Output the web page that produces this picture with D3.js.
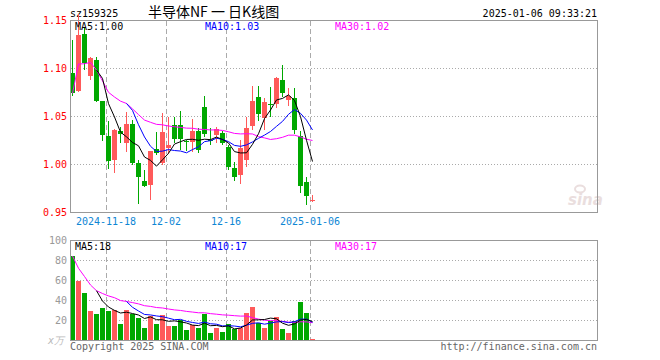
<!DOCTYPE html>
<html>
<head>
<meta charset="utf-8">
<script src="https://cdn.jsdelivr.net/npm/d3@7"></script>
<style>
  body { margin: 0; background: #fff; }
  #chart { width: 660px; height: 360px; }
  text { font-family: "DejaVu Sans Mono", monospace; font-size: 10px; }
</style>
</head>
<body>
<div id="chart"></div>
<script>
// trading days shown on the chart
const dates = [
  '2024-11-08',
  '2024-11-11','2024-11-12','2024-11-13','2024-11-14','2024-11-15',
  '2024-11-18','2024-11-19','2024-11-20','2024-11-21','2024-11-22',
  '2024-11-25','2024-11-26','2024-11-27','2024-11-28','2024-11-29',
  '2024-12-02','2024-12-03','2024-12-04','2024-12-05','2024-12-06',
  '2024-12-09','2024-12-10','2024-12-11','2024-12-12','2024-12-13',
  '2024-12-16','2024-12-17','2024-12-18','2024-12-19','2024-12-20',
  '2024-12-23','2024-12-24','2024-12-25','2024-12-26','2024-12-27',
  '2024-12-30','2024-12-31','2025-01-02','2025-01-03','2025-01-06'
];

const openP  = [1.0945,1.0763,1.135,1.092,1.1087,1.066,1.0288,1.0045,1.0347,1.022,
                1.0413,1.0007,0.982,0.978,1.0156,1.0013,1.017,1.0406,1.041,1.024,
                1.023,1.034,1.059,1.0248,1.0305,1.032,1.018,0.996,0.9887,1.0045,
                1.04,1.07,1.048,1.063,1.062,1.088,1.0665,1.0688,1.0288,0.9815,0.9617];
const highP  = [1.129,1.156,1.142,1.111,1.1115,1.066,1.0451,1.036,1.039,1.0545,
                1.0458,1.004,0.9937,1.014,1.033,1.0534,1.049,1.0493,1.0555,1.025,
                1.0465,1.037,1.071,1.038,1.039,1.034,1.02,1.002,1.025,1.0486,
                1.081,1.081,1.069,1.08,1.091,1.1035,1.079,1.0795,1.034,0.986,0.968];
const lowP   = [1.071,1.075,1.098,1.087,1.0645,1.0243,0.9945,0.991,1.022,1.0128,
                0.999,0.958,0.9763,0.963,1.0097,0.999,1.01,1.022,1.015,1.014,
                1.013,1.011,1.028,1.02,1.022,1.0197,0.994,0.982,0.9796,0.997,
                1.035,1.045,1.035,1.049,1.058,1.07,1.06,1.031,0.9697,0.957,0.96];
const closeP = [1.0736,1.1347,1.105,1.11,1.066,1.0299,1.0034,1.0357,1.031,1.0413,
                1.0007,0.9861,0.9774,1.0132,1.0115,1.0336,1.02,1.0256,1.0256,1.023,
                1.0344,1.015,1.031,1.0235,1.0365,1.0216,0.997,0.986,1.0164,1.0375,
                1.0656,1.052,1.065,1.061,1.09,1.0735,1.0705,1.0357,0.977,0.967,0.9627];
// volume, x万
const volume = [84,59.5,47,29.5,26.5,32.5,29.5,30,16.5,30.5,
                26,22,12.5,24.5,16.5,25.5,14.5,14.5,20,10.5,
                15,12,26.5,7.5,12,8.5,16.5,11,12,27,
                33.5,17.5,12.5,19,23.5,11.5,7,19.5,38,27,1];

const priceTicks = [1.15, 1.10, 1.05, 1.00, 0.95];
const volTicks = [100, 80, 60, 40, 20];
const dateTicks = ['2024-11-18', '12-02', '12-16', '2025-01-06'];

const RED = '#ff5a5a', GREEN = '#00a800';

// moving average; n=30 uses whatever days are available
function movingAvg(arr, n, expanding) {
  return arr.map((d, i) => {
    if (i < n - 1 && !expanding) return null;
    const s = arr.slice(Math.max(0, i - n + 1), i + 1);
    return d3.mean(s);
  });
}

class KChart {
  constructor(el) {
    this.el = el;
    this.data = dates.map((d, i) => ({
      i, date: d, open: openP[i], high: highP[i], low: lowP[i], close: closeP[i], vol: volume[i]
    }));
    this.draw();
  }

  createScales() {
    this.x = d3.scaleLinear().domain([0, 40]).range([70, 310]);
    this.y = d3.scaleLinear().domain([0.95, 1.15]).range([212, 20]);
    this.v = d3.scaleLinear().domain([0, 100]).range([340, 240]);
  }

  draw() {
    this.createScales();
    const svg = d3.select(this.el).append('svg')
      .attr('width', 660).attr('height', 360);
    this.svg = svg;

    // header
    svg.append('text').attr('x', 70).attr('y', 16.5).text('sz159325');
    svg.append('text').attr('x', 148).attr('y', 17)
      .style('font-family', '"Noto Sans CJK SC"').style('font-size', '14px')
      .text('半导体NF 一 日K线图');
    svg.append('text').attr('x', 597).attr('y', 16.5).attr('text-anchor', 'end')
      .text('2025-01-06 09:33:21');

    this.drawGrid(20, 212, priceTicks.slice(1, -1).map(t => this.y(t)));
    this.drawGrid(240, 340, volTicks.slice(1).map(t => this.v(t)));

    // sina watermark
    svg.append('text').attr('x', 568).attr('y', 205)
      .style('font-family', 'Verdana, "DejaVu Sans"').style('font-size', '15px')
      .style('font-style', 'italic').style('font-weight', 'bold')
      .attr('fill', '#eadede').text('sina');
    svg.append('ellipse').attr('cx', 580).attr('cy', 189).attr('rx', 5).attr('ry', 3.5)
      .attr('fill', 'none').attr('stroke', '#eadede').attr('stroke-width', 2);

    this.drawPrice();
    this.drawVolume();

    // panel borders
    svg.append('rect').attr('x', 70.5).attr('y', 20.5).attr('width', 527).attr('height', 192)
      .attr('fill', 'none').attr('stroke', '#999');
    svg.append('rect').attr('x', 70.5).attr('y', 240.5).attr('width', 527).attr('height', 100)
      .attr('fill', 'none').attr('stroke', '#999');

    // axis labels
    svg.selectAll('.plabel').data(priceTicks).enter().append('text')
      .attr('x', 67).attr('y', d => this.y(d) + 3.5).attr('text-anchor', 'end')
      .attr('fill', '#f00').text(d => d.toFixed(2));
    svg.selectAll('.vlabel').data(volTicks).enter().append('text')
      .attr('x', 67).attr('y', d => this.v(d) + 3.5).attr('text-anchor', 'end')
      .attr('fill', '#999').text(d => d);
    svg.append('text').attr('x', 64).attr('y', 344).attr('text-anchor', 'end')
      .attr('fill', '#bbb').style('font-style', 'italic').text('x万');

    const tickIdx = dateTicks.map(t => this.data.findIndex(d => d.date.endsWith(t)));
    svg.selectAll('.dlabel').data(tickIdx).enter().append('text')
      .attr('x', d => this.x(d)).attr('y', 225).attr('text-anchor', 'middle')
      .attr('fill', '#0e86d4').text((d, k) => dateTicks[k]);

    // footer
    svg.append('text').attr('x', 70).attr('y', 350).attr('fill', '#666')
      .text('Copyright 2025 SINA.COM');
    svg.append('text').attr('x', 597).attr('y', 350).attr('text-anchor', 'end')
      .attr('fill', '#666').text('http://finance.sina.com.cn');
  }

  drawGrid(top, bottom, ys) {
    const g = this.svg.append('g');
    g.selectAll('.hgrid').data(ys).enter().append('line')
      .attr('x1', 71).attr('x2', 597)
      .attr('y1', d => Math.round(d) + 0.5).attr('y2', d => Math.round(d) + 0.5)
      .attr('stroke', '#aaa').attr('stroke-dasharray', '1,2');
    const tickIdx = dateTicks.map(t => this.data.findIndex(d => d.date.endsWith(t)));
    g.selectAll('.vgrid').data(tickIdx).enter().append('line')
      .attr('x1', d => this.x(d) + 0.5).attr('x2', d => this.x(d) + 0.5)
      .attr('y1', top + 1).attr('y2', bottom)
      .attr('stroke', '#aaa').attr('stroke-dasharray', '5,3');
  }

  drawPrice() {
    const g = this.svg.append('g').attr('shape-rendering', 'crispEdges');
    const colour = d => d.close >= d.open ? RED : GREEN;

    g.selectAll('.wick').data(this.data).enter().append('rect')
      .attr('x', d => this.x(d.i) + 2).attr('width', 1)
      .attr('y', d => this.y(d.high))
      .attr('height', d => this.y(d.low) - this.y(d.high))
      .attr('fill', colour);

    g.selectAll('.body').data(this.data).enter().append('rect')
      .attr('x', d => this.x(d.i)).attr('width', 5)
      .attr('y', d => this.y(Math.max(d.open, d.close)))
      .attr('height', d => Math.max(1, Math.abs(this.y(d.open) - this.y(d.close))))
      .attr('fill', colour);

    const closes = this.data.map(d => d.close);
    const mas = [
      { name: 'MA5',  vals: movingAvg(closes, 5),        col: '#000',    lx: 75 },
      { name: 'MA10', vals: movingAvg(closes, 10),       col: '#0000ff', lx: 205 },
      { name: 'MA30', vals: movingAvg(closes, 30, true), col: '#ff00ff', lx: 335 }
    ];
    // labels are cut, not rounded
    this.drawLines(mas, this.y, 30, d => (Math.floor(d * 100) / 100).toFixed(2));
  }

  drawVolume() {
    const g = this.svg.append('g').attr('shape-rendering', 'crispEdges');
    g.selectAll('.vbar').data(this.data).enter().append('rect')
      .attr('x', d => this.x(d.i)).attr('width', 5)
      .attr('y', d => this.v(d.vol))
      .attr('height', d => this.v(0) - this.v(d.vol))
      .attr('fill', d => d.close >= d.open ? RED : GREEN);

    const vols = this.data.map(d => d.vol);
    const mas = [
      { name: 'MA5',  vals: movingAvg(vols, 5),        col: '#000',    lx: 75 },
      { name: 'MA10', vals: movingAvg(vols, 10),       col: '#0000ff', lx: 205 },
      { name: 'MA30', vals: movingAvg(vols, 30, true), col: '#ff00ff', lx: 335 }
    ];
    this.drawLines(mas, this.v, 250, d => Math.floor(d));
  }

  drawLines(mas, scale, labelY, fmt) {
    // draw MA30 first so the short averages sit on top
    mas.slice().reverse().forEach(m => {
      const line = d3.line()
        .defined(d => d != null)
        .x((d, i) => this.x(i) + 2.5)
        .y(d => scale(d));
      this.svg.append('path').datum(m.vals)
        .attr('d', line).attr('fill', 'none')
        .attr('stroke', m.col).attr('stroke-width', 1);
    });
    mas.forEach(m => {
      this.svg.append('text').attr('x', m.lx).attr('y', labelY)
        .attr('fill', m.col).text(m.name + ':' + fmt(m.vals[m.vals.length - 1]));
    });
  }
}

new KChart(document.getElementById('chart'));
</script>
</body>
</html>
